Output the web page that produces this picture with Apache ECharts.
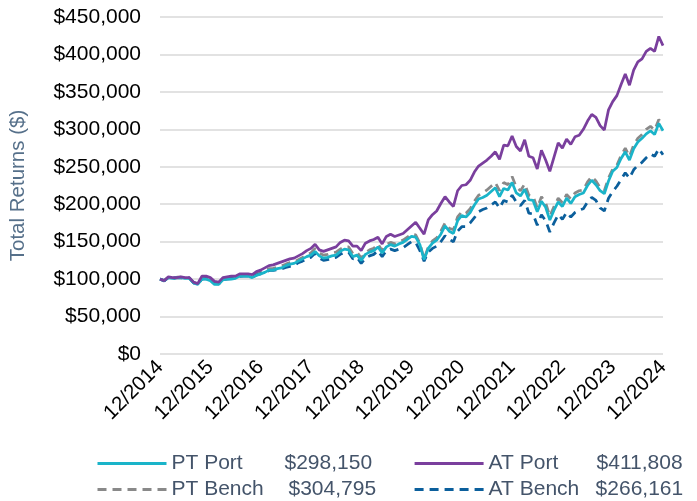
<!DOCTYPE html>
<html>
<head>
<meta charset="utf-8">
<script src="https://cdn.jsdelivr.net/npm/echarts@6/dist/echarts.min.js"></script>
<style>html,body{margin:0;padding:0;background:#fff}#c{width:697px;height:501px}</style>
</head>
<body>
<div id="c"></div>
<script>
// values in thousands of dollars, monthly 12/2014 .. 12/2024
const ptPort = [100,98,102,101,102,102,101,101,95,93,100,100,98,
 93,93,99,100,100,101,104,104,104,102,105,107,
 109,112,112,114,115,118,120,121,124,127,130,132,
 137,131,128,129,131,132,137,140,139,130,132,125,
 133,136,138,143,135,143,146,144,147,149,153,157,
 156,146,126,141,148,152,160,171,164,161,178,185,
 183,189,199,207,209,212,217,222,210,221,219,229,
 215,211,220,206,205,190,204,196,179,192,203,197,
 208,201,210,213,215,225,232,226,218,214,231,244,
 249,261,270,259,274,283,288,294,298,293,308,298.15];
const ptBench = [100,98,102.5,101.5,102.5,102.5,101.5,101.5,95.5,93.5,100.5,101,99,
 94,94,100,101,101.5,102,105,105.5,105.5,103.5,107,109,
 111,114,114.5,116,117.5,120,122,123,126,129,132.5,135,
 141,135,132,133,135,136,140,143,143,134,136,128,
 135,139,141,147,138,146,149,147,150,152,156,160,
 159,148,127,143,151,155,164,175,168,166,183,190,
 188,194,204,212,215,219,224,229,218,229,226,237,
 223,218,227,212,211,195,210,202,184,197,208,202,
 213,207,215,218,219,230,237,231,222,218,235,247,
 252,265,275,264,279,288,293,300,304,299,313,304.795];
const atPort = [100,98,103,102,102,103,102,102,96,94,104,104,102,
 97,96,102,103,104,104,107,107,107,106,110,112,
 115,118,119,121,123,125,127,128,131,134,138,141,
 146.5,139,137,139,141,143,149,152,151,144,144,138,
 148,151,153,156,147,157,160,157,159,161,166,171,
 176,168,160,179,186,191,201,210,203,197,218,225,
 226,232,243,251,255,259,264,270,260,279,278,291,
 277,271,286,264,262,247,272,259,244,263,282,275,
 287,280,290,292,300,311,320,316,305,299,326,337,
 345,360,374,359,379,390,394,404,408,404,424,411.808];
const atBench = [100,97.5,102,101,101.5,102,101,101.5,95,93,100,100.5,99,
 94,93.5,99.5,100,100.5,101,103.5,104,104,102,105.5,107,
 108.5,111.5,111.5,112.5,113.5,115.5,117,118,122,124,127,129,
 134.5,128,125,126,128,129,133,136,136,127,129,121,
 128,131,133,138,130,138,140,138,140,142,146,150,
 149,138,124,136,141,144,150,158,153,150,164,170,
 170,175,182,190,193,195,199,203,195,205,203,212,
 203,198,205,188,187,172,186,178,163,175,186,180,
 189,183,189,192,194,203,209,205,195,191,208,217,
 224,233,242,235,246,252,256,262,267,264,274,266.161];
const seriesNames = ['PT Port','AT Port','PT Bench','AT Bench'];
const endValues = {'PT Port':'$298,150','AT Port':'$411,808','PT Bench':'$304,795','AT Bench':'$266,161'};
const nameWidths = {'PT Port':113,'AT Port':108,'PT Bench':117,'AT Bench':107};

const months = [];
months.push('12/2014');
for (let y = 2015; y <= 2024; y++) for (let m = 1; m <= 12; m++) months.push(m + '/' + y);

const FONT = '"Liberation Sans", Arial, sans-serif';
const legendText = '#44546a';
const ICON_W = 69;
const LFS = 21;

function mkLegend(items, top) {
  const rich = {v: {fontFamily: FONT, fontSize: LFS, color: legendText, width: 92}};
  items.forEach(n => { rich[n.replace(' ', '')] = {fontFamily: FONT, fontSize: LFS, color: legendText, width: nameWidths[n]}; });
  const w1 = ICON_W + 5 + nameWidths[items[0]] + 92;
  return {
    data: items, left: 91, top: top, itemWidth: ICON_W, itemHeight: 14,
    itemGap: 416 - 96 - w1,
    selectedMode: false,
    itemStyle: {opacity: 0},
    lineStyle: {width: 3},
    formatter: n => '{' + n.replace(' ', '') + '|' + n + '}{v|' + endValues[n] + '}',
    textStyle: {fontFamily: FONT, fontSize: LFS, color: legendText, rich: rich}
  };
}

const chart = echarts.init(document.getElementById('c'), null, {renderer: 'canvas'});
chart.setOption({
  animation: false,
  backgroundColor: '#fff',
  textStyle: {fontFamily: FONT},
  grid: {left: 159, right: 34, top: 17, bottom: 147, containLabel: false},
  legend: [mkLegend(['PT Port','AT Port'], 448), mkLegend(['PT Bench','AT Bench'], 474)],
  xAxis: {
    type: 'category', boundaryGap: false, data: months,
    axisLine: {show: false}, axisTick: {show: false},
    axisLabel: {interval: 11, rotate: 45, fontSize: 20.5, color: '#000', fontFamily: FONT, margin: 10},
    splitLine: {show: false}
  },
  yAxis: {
    type: 'value', min: 0, max: 450, interval: 50,
    name: 'Total Returns ($)', nameLocation: 'middle', nameRotate: 90, nameGap: 131,
    nameTextStyle: {fontSize: 20.5, color: '#56708a', fontFamily: FONT},
    axisLine: {show: false}, axisTick: {show: false},
    axisLabel: {fontSize: 21, color: '#000', fontFamily: FONT, margin: 19,
      formatter: v => v === 0 ? '$0' : '$' + v + ',000'},
    splitLine: {lineStyle: {color: '#d9d9d9', width: 1.5}}
  },
  series: [
    {name: 'PT Bench', type: 'line', data: ptBench, symbol: 'none', z: 2,
     lineStyle: {color: '#898989', width: 2.75, type: [9, 6]}, itemStyle: {color: '#898989'}},
    {name: 'AT Bench', type: 'line', data: atBench, symbol: 'none', z: 3,
     lineStyle: {color: '#0b5f9c', width: 2.75, type: [9, 6]}, itemStyle: {color: '#0b5f9c'}},
    {name: 'PT Port', type: 'line', data: ptPort, symbol: 'none', z: 4,
     lineStyle: {color: '#1ab4c9', width: 2.75}, itemStyle: {color: '#1ab4c9'}},
    {name: 'AT Port', type: 'line', data: atPort, symbol: 'none', z: 5,
     lineStyle: {color: '#7a3f9d', width: 2.75}, itemStyle: {color: '#7a3f9d'}}
  ]
});
</script>
</body>
</html>
